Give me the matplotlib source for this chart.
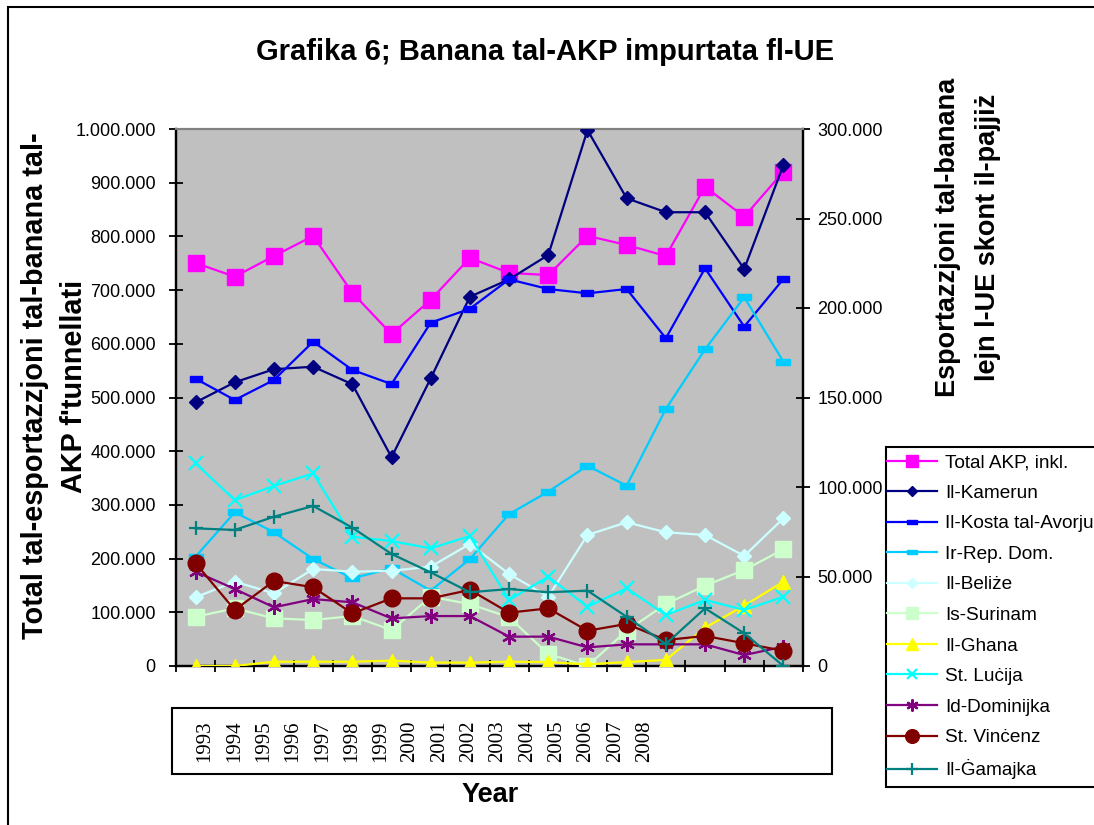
import numpy as np
import matplotlib
matplotlib.use("Agg")
import matplotlib.pyplot as plt
from matplotlib.patches import Rectangle
from matplotlib.ticker import FuncFormatter

# ---------------- data ----------------
years = [str(y) for y in range(1993, 2009)]
total_akp = [750500, 725000, 763500, 800700, 695000, 618000, 682000, 760000,
             732000, 728000, 801000, 784000, 763500, 892500, 836700, 920500]
kamerun = [147300, 158500, 165800, 167200, 157400, 116600, 160700, 206300,
           216000, 229600, 299400, 261300, 253500, 253500, 221800, 279900]
kosta = [160500, 148600, 159800, 181200, 165400, 157500, 191800, 199600,
         216000, 210600, 208200, 210600, 183100, 222200, 189600, 216200]
rep_dom = [61100, 85900, 74700, 59800, 49000, 54600, 42100, 59800,
           84900, 97400, 111900, 100700, 143600, 176900, 206000, 170000]
belize = [38400, 47100, 40600, 54200, 52700, 53200, 55500, 68200,
          51400, 38700, 73200, 80300, 74700, 73200, 61500, 82500]
surinam = [27500, 32200, 26600, 25700, 27900, 20100, 38700, 34600,
           27200, 6700, 0, 19700, 34600, 44900, 53600, 65200]
ghana = [0, 0, 2400, 2400, 2400, 3000, 1900, 1900,
         2400, 2200, 900, 2200, 3400, 21400, 33700, 47100]
lucija = [113200, 92700, 100600, 107600, 72200, 69800, 65700, 72600,
          36900, 49900, 33100, 43400, 28500, 36900, 31300, 38700]
dominika = [52700, 43000, 32800, 37400, 35600, 26600, 27900, 27900,
            16400, 16400, 10400, 12100, 12100, 12100, 6100, 10800]
vincenz = [57400, 31300, 47500, 44000, 29400, 37800, 37800, 42500,
           29800, 32200, 19700, 23500, 14500, 16800, 12700, 8500]
gamajka = [76900, 76000, 83400, 89400, 77300, 62600, 52300, 41200,
           43000, 41200, 42100, 27500, 12300, 32200, 18300, 0]

labels = ["Total AKP, inkl.", "Il-Kamerun", "Il-Kosta tal-Avorju", "Ir-Rep. Dom.",
          "Il-Beliże", "Is-Surinam", "Il-Ghana", "St. Luċija", "Id-Dominijka",
          "St. Vinċenz", "Il-Ġamajka"]

title = "Grafika 6; Banana tal-AKP impurtata fl-UE"
ylabel_left = "Total tal-esportazzjoni tal-banana tal-\nAKP f'tunnellati"
ylabel_right = "Esportazzjoni tal-banana\nlejn l-UE skont il-pajjiż"
xlabel = "Year"

# ---------------- styling ----------------
plt.rcParams['font.family'] = ['Liberation Sans', 'DejaVu Sans']
W, H = 1094, 825
fig = plt.figure(figsize=(W / 100, H / 100), dpi=100)

def fx(px):
    return px / W

def fy(py):
    return 1 - py / H

L, R, T, B = 176, 803, 129, 666
ax = fig.add_axes([fx(L), fy(B), fx(R - L), fy(T) - fy(B)])
ax.set_facecolor('#C0C0C0')
ax2 = ax.twinx()

rect_marker = [(-1, -0.42), (1, -0.42), (1, 0.42), (-1, 0.42), (-1, -0.42)]
star_marker = (6, 2, 0)

x = np.arange(len(years))
lw = 1.6
styles = [
    (total_akp, '#FF00FF', 's', 11, 1.0),
    (kamerun, '#000080', 'D', 6.8, 1.0),
    (kosta, '#0000FF', rect_marker, 8.6, 1.0),
    (rep_dom, '#00CCFF', rect_marker, 9.4, 1.0),
    (belize, '#CCFFFF', 'D', 6.8, 1.0),
    (surinam, '#CCFFCC', 's', 11, 1.0),
    (ghana, '#FFFF00', '^', 10, 1.0),
    (lucija, '#00FFFF', 'x', 9.5, 1.6),
    (dominika, '#800080', star_marker, 10.5, 1.6),
    (vincenz, '#800000', 'o', 12, 1.0),
    (gamajka, '#008080', '+', 10.5, 1.6),
]

handles = []
for i, (vals, col, mk, ms, mew) in enumerate(styles):
    target = ax if i == 0 else ax2
    h, = target.plot(x, vals, color=col, lw=lw, marker=mk, ms=ms,
                     mfc=col, mec=col, mew=mew, label=labels[i], zorder=3 + i)
    handles.append(h)

ax.set_xlim(-0.5, len(years) - 0.5)
ax.set_ylim(0, 1000000)
ax2.set_ylim(0, 300000)
ax.set_yticks(np.arange(0, 1000001, 100000))
ax2.set_yticks(np.arange(0, 300001, 50000))

fmt = FuncFormatter(lambda v, p: f"{int(round(v)):,}".replace(",", "."))
ax.yaxis.set_major_formatter(fmt)
ax2.yaxis.set_major_formatter(fmt)

ax.set_xticks(np.arange(-0.5, len(years), 1))
ax.set_xticklabels([])
ax.tick_params(axis='x', direction='inout', length=9, width=1.3, color='black')
ax.tick_params(axis='y', direction='inout', length=10, width=1.3, color='black',
               labelsize=13, pad=9.5)
ax2.tick_params(axis='y', direction='inout', length=10, width=1.3, color='black',
                labelsize=13, pad=5.5)

for a in (ax, ax2):
    a.spines['top'].set_color('#808080')
    a.spines['top'].set_linewidth(1.5)
    a.spines['left'].set_linewidth(1.6)
    a.spines['right'].set_linewidth(1.6)
    a.spines['bottom'].set_linewidth(1.6)
    for s in ('left', 'right', 'bottom'):
        a.spines[s].set_color('black')

# title & labels
fig.text(fx(545), fy(52), title, ha='center', va='center',
         fontsize=21, fontweight='bold')
fig.text(fx(55), fy(386), ylabel_left, ha='center', va='center', rotation=90,
         fontsize=20.8, fontweight='bold', linespacing=1.5)
fig.text(fx(968), fy(237), ylabel_right, ha='center', va='center', rotation=90,
         fontsize=19.5, fontweight='bold', linespacing=1.74)
fig.text(fx(490), fy(795), xlabel, ha='center', va='center',
         fontsize=19.5, fontweight='bold')

# year box
fig.patches.append(Rectangle((fx(172), fy(774)), fx(832 - 172), fy(708) - fy(774),
                             transform=fig.transFigure, fill=False,
                             edgecolor='black', lw=1.5))
for i, yl in enumerate(years):
    fig.text(fx(205 + 29.3 * i), fy(741), yl, rotation=90, ha='center', va='center',
             fontsize=15, family='Liberation Serif')

# outer border
fig.patches.append(Rectangle((fx(8), fy(900)), fx(1200), fy(7) - fy(900),
                             transform=fig.transFigure, fill=False,
                             edgecolor='black', lw=1.5, clip_on=False))

# legend (frame drawn separately so it can run off the right edge)
fig.patches.append(Rectangle((fx(886), fy(787)), fx(400), fy(447) - fy(787),
                             transform=fig.transFigure, facecolor='white',
                             edgecolor='black', lw=1.5, clip_on=False, zorder=1))
leg = fig.legend(handles=handles, labels=labels, loc='upper left',
                 bbox_to_anchor=(fx(887), fy(454)), fontsize=13.7,
                 frameon=False, handlelength=2.63, handletextpad=0.42,
                 labelspacing=0.695, borderpad=0.0, borderaxespad=0.0,
                 markerscale=0.82)
leg.set_zorder(5)

fig.savefig('out.png', dpi=100)
